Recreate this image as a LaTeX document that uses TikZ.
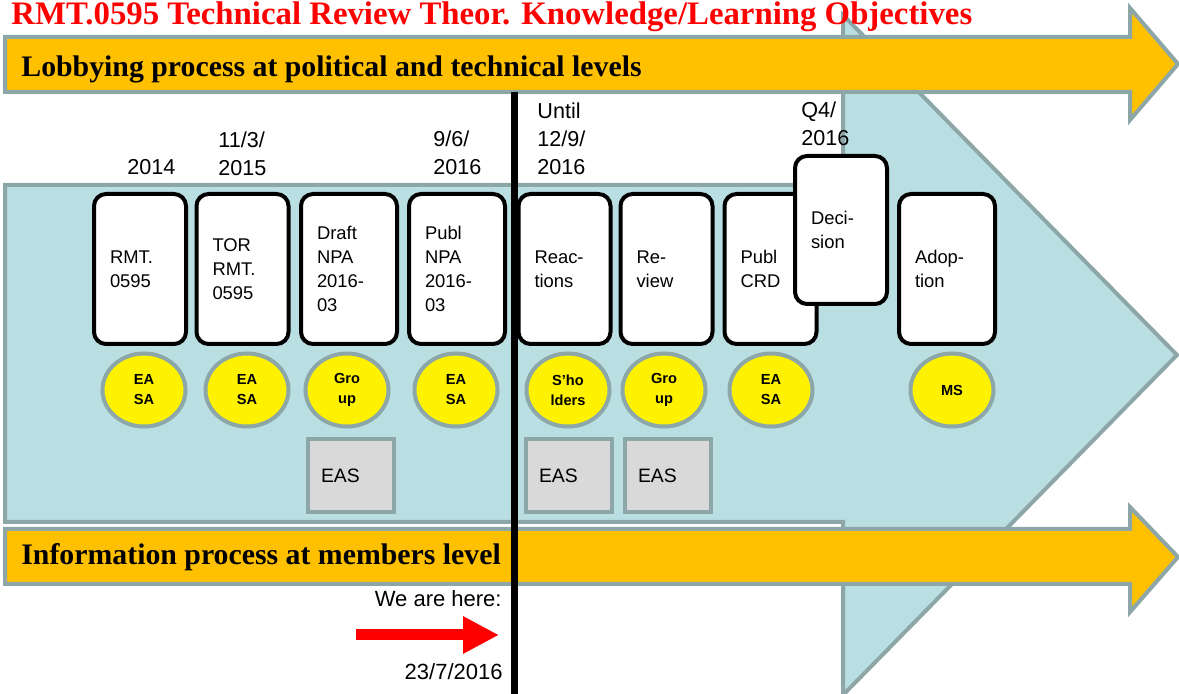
\documentclass[tikz,border=0pt]{standalone}
\usepackage{fontspec}
\setmainfont{Liberation Serif}
\setsansfont{Liberation Sans}
\usepackage{tikz}
\usetikzlibrary{shapes.geometric}
\usetikzlibrary{arrows.meta}
\definecolor{edgegray}{HTML}{8DA7A9}
\definecolor{bannerfill}{HTML}{FFC000}
\definecolor{timefill}{HTML}{BADFE3}
\definecolor{docfill}{HTML}{D9D9D9}
\tikzstyle{timeline}=[draw=edgegray, line width=2pt, fill=timefill]
\tikzstyle{banner}=[draw=edgegray, line width=2pt, fill=bannerfill]
\tikzstyle{bannertext}=[anchor=base west, inner sep=0pt, font=\bfseries\fontsize{14.9}{18}\selectfont]
\tikzstyle{headline}=[anchor=base west, inner sep=0pt, text=red, font=\bfseries\fontsize{16.4}{20}\selectfont]
\tikzstyle{stage}=[draw, line width=2pt, rounded corners=6pt, fill=white, inner xsep=8pt, text width=30pt, minimum height=75pt, align=left, font=\sffamily\fontsize{9.2}{12}\selectfont]
\tikzstyle{wstage}=[stage, text width=32pt]
\tikzstyle{actor}=[ellipse, draw=edgegray, line width=2pt, fill=yellow, inner sep=0pt, minimum width=41.5pt, minimum height=36.5pt, align=center, font=\sffamily\bfseries\fontsize{7.3}{10}\selectfont]
\tikzstyle{docbox}=[draw=edgegray, line width=2pt, fill=docfill, inner xsep=6.5pt, text width=30pt, minimum height=36.5pt, align=left, font=\sffamily\fontsize{9.7}{12}\selectfont]
\tikzstyle{datelabel}=[anchor=north west, inner sep=0pt, align=left, font=\sffamily\fontsize{10.8}{14}\selectfont]
\tikzstyle{note}=[anchor=base east, inner sep=0pt, font=\sffamily\fontsize{11}{14}\selectfont]
\tikzstyle{now}=[line width=3.5pt]
\tikzstyle{pointer}=[red, line width=5.5pt, -{Triangle[length=18pt, width=17.5pt]}]

\begin{document}
\begin{tikzpicture}[x=0.5pt, y=-0.5pt]
    \useasboundingbox (0, 0) rectangle (1179, 694);
    % big timeline arrow
    \filldraw[timeline] (5, 185) -- (843, 185) -- (843, 15) -- (1177, 355) -- (843, 695) -- (843, 522) -- (5, 522) -- cycle;
    % the two process arrows
    \filldraw[banner] (5, 37) -- (1130, 37) -- (1130, 8) -- (1178, 64) -- (1130, 120) -- (1130, 92) -- (5, 92) -- cycle;
    \filldraw[banner] (5, 529) -- (1130, 529) -- (1130, 507) -- (1178, 557) -- (1130, 612) -- (1130, 584) -- (5, 584) -- cycle;
    \node[headline]   (title) at (11, 25) {RMT.0595 Technical Review Theor. Knowledge/Learning Objectives};
    \node[bannertext] (lobby) at (21, 77) {Lobbying process at political and technical levels};
    \node[bannertext] (inform) at (21, 565) {Information process at members level};

    \node[datelabel] (d2014) at (127, 159) {2014};
    \node[datelabel] (d2015) at (218, 131) {11/3/\\2015};
    \node[datelabel] (d2016a) at (433, 130) {9/6/\\2016};
    \node[datelabel] (d2016b) at (537, 102) {Until\\12/9/\\2016};
    \node[datelabel] (d2016c) at (801, 101) {Q4/\\2016};

    \node[stage]  (rmt) at (140, 269) {RMT.\\0595};
    \node[stage]  (tor) at (242.5, 269) {TOR\\RMT.\\0595};
    \node[wstage] (draft) at (349, 269) {Draft\\NPA\\2016-\\03};
    \node[wstage] (npa) at (457, 269) {Publ\\NPA\\2016-\\03};
    \node[stage]  (react) at (564.5, 269) {Reac-\\tions};
    \node[stage]  (review) at (666.5, 269) {Re-\\view};
    \node[stage]  (crd) at (770.5, 269) {Publ\\CRD};
    \node[stage, minimum height=74pt] (decide) at (841, 230) {Deci-\\sion};
    \node[wstage] (adopt) at (947, 269) {Adop-\\tion};

    \node[actor] (rmtA) at (144, 390) {EA\\SA};
    \node[actor] (torA) at (247, 390) {EA\\SA};
    \node[actor] (draftA) at (347, 390) {Gro\\up};
    \node[actor] (npaA) at (456, 390) {EA\\SA};
    \node[actor] (reactA) at (568, 390) {S'ho\\lders};
    \node[actor] (reviewA) at (664, 390) {Gro\\up};
    \node[actor] (crdA) at (771, 390) {EA\\SA};
    \node[actor] (adoptA) at (952, 390) {MS};

    \node[docbox] (draftE) at (351, 475.5) {EAS};
    \node[docbox] (reactE) at (569, 475.5) {EAS};
    \node[docbox] (reviewE) at (668, 475.5) {EAS};

    % where we stand
    \coordinate (nowtop) at (514, 92);
    \coordinate (nowbot) at (514, 694);
    \draw[now] (nowtop) -- (nowbot);
    \node[note] (here) at (502, 607) {We are here:};
    \node[note] (today) at (503, 680) {23/7/2016};
    \coordinate (herestart) at (356, 635);
    \coordinate (heretip) at (499, 635);
    \draw[pointer] (herestart) -- (heretip);
\end{tikzpicture}
\end{document}
